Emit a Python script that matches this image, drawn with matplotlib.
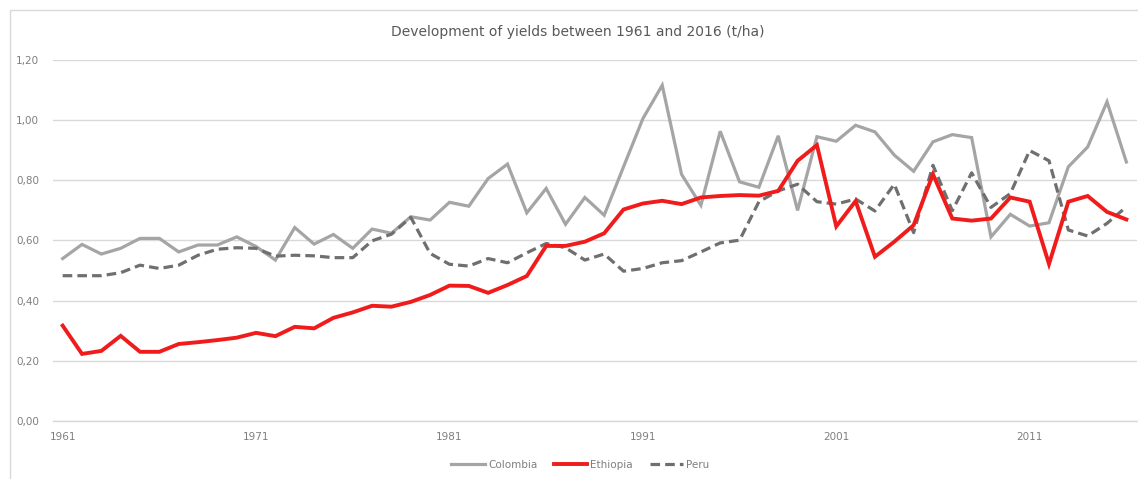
import matplotlib
matplotlib.use("Agg")
import matplotlib.pyplot as plt
from matplotlib.patches import Rectangle
from matplotlib.ticker import FixedLocator, FuncFormatter

years = list(range(1961, 2017))

colombia = [0.540, 0.587, 0.555, 0.574, 0.607, 0.607, 0.562, 0.585, 0.585, 0.612,
            0.580, 0.535, 0.643, 0.588, 0.620, 0.574, 0.638, 0.624, 0.679, 0.668,
            0.727, 0.714, 0.806, 0.854, 0.692, 0.773, 0.654, 0.743, 0.684, 0.845,
            1.005, 1.116, 0.820, 0.717, 0.963, 0.795, 0.777, 0.948, 0.700, 0.945,
            0.930, 0.983, 0.961, 0.884, 0.830, 0.928, 0.952, 0.942, 0.612, 0.687,
            0.648, 0.659, 0.845, 0.911, 1.061, 0.861]

ethiopia = [0.317, 0.223, 0.233, 0.283, 0.230, 0.230, 0.256, 0.262, 0.269, 0.277,
            0.293, 0.282, 0.313, 0.308, 0.343, 0.361, 0.383, 0.380, 0.396, 0.419,
            0.450, 0.449, 0.426, 0.452, 0.482, 0.582, 0.582, 0.596, 0.624, 0.703,
            0.723, 0.732, 0.721, 0.743, 0.748, 0.751, 0.749, 0.765, 0.865, 0.917,
            0.647, 0.731, 0.546, 0.596, 0.651, 0.820, 0.673, 0.666, 0.673, 0.743,
            0.729, 0.522, 0.729, 0.748, 0.695, 0.670]

peru = [0.483, 0.483, 0.483, 0.493, 0.518, 0.507, 0.518, 0.551, 0.571, 0.576,
        0.574, 0.548, 0.551, 0.549, 0.543, 0.543, 0.599, 0.621, 0.677, 0.557,
        0.521, 0.515, 0.540, 0.526, 0.559, 0.590, 0.576, 0.535, 0.555, 0.498,
        0.507, 0.526, 0.533, 0.562, 0.592, 0.601, 0.729, 0.765, 0.787, 0.729,
        0.721, 0.738, 0.698, 0.787, 0.626, 0.850, 0.699, 0.825, 0.710, 0.756,
        0.899, 0.865, 0.635, 0.615, 0.657, 0.712]

x_ticks = [1961, 1971, 1981, 1991, 2001, 2011]
y_ticks = [0.0, 0.2, 0.4, 0.6, 0.8, 1.0, 1.2]
title = "Development of yields between 1961 and 2016 (t/ha)"

W, H = 1138, 479
fig = plt.figure(figsize=(W / 100, H / 100), dpi=100)
fig.patch.set_facecolor("white")

# outer chart border
fig.patches.append(Rectangle((10 / W, -0.1), 1.2, 1 - 10 / H + 0.1,
                             transform=fig.transFigure, fill=False,
                             edgecolor="#d9d9d9", linewidth=1.0))

ax = fig.add_axes([53 / W, 1 - 421 / H, (1137 - 53) / W, (421 - 60) / H])
ax.set_facecolor("white")

ax.plot(years, colombia, color="#a5a5a5", linewidth=2.3, label="Colombia",
        solid_joinstyle="miter", zorder=3)
ax.plot(years, ethiopia, color="#f01c1c", linewidth=2.8, label="Ethiopia",
        solid_joinstyle="miter", zorder=4)
ax.plot(years, peru, color="#6f6f6f", linewidth=2.3, linestyle=(0, (3, 1.6)),
        label="Peru", zorder=3)

ax.set_xlim(1960.5, 2016.55)
ax.set_ylim(0, 1.2)
ax.yaxis.set_major_locator(FixedLocator(y_ticks))
ax.xaxis.set_major_locator(FixedLocator(x_ticks))
ax.yaxis.set_major_formatter(FuncFormatter(lambda v, p: f"{v:.2f}".replace(".", ",")))
ax.grid(axis="y", color="#d9d9d9", linewidth=1.0, zorder=0)
ax.set_axisbelow(True)
for s in ["top", "right", "left"]:
    ax.spines[s].set_visible(False)
ax.spines["bottom"].set_color("#d9d9d9")
ax.spines["bottom"].set_linewidth(1.0)
ax.tick_params(axis="both", length=0, labelsize=7.5, labelcolor="#7f7f7f")
ax.tick_params(axis="y", pad=10)
ax.tick_params(axis="x", pad=8)

fig.text(0.508, 1 - 32 / H, title, ha="center", va="center",
         fontsize=10, color="#595959")

fig.legend(loc="center", bbox_to_anchor=(0.51, 1 - 465 / H), ncol=3,
           frameon=False, fontsize=7.5, labelcolor="#7f7f7f",
           handlelength=3.2, columnspacing=1.6, handletextpad=0.3)

fig.savefig("out.png", dpi=100, facecolor="white")
